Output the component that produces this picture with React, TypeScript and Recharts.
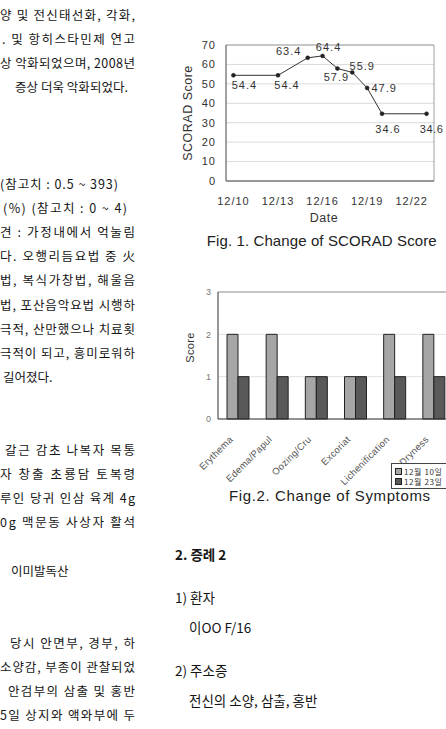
import React from 'react';
import {
  LineChart,
  Line,
  BarChart,
  Bar,
  XAxis,
  YAxis,
  CartesianGrid,
  ReferenceLine,
  LabelList,
  Legend,
} from 'recharts';

// ---------- Fig. 1 : SCORAD score ----------
const SCORAD_DAYS = [10, 13, 15, 16, 17, 18, 19, 20, 23]; // day of December
const SCORAD_SCORES = [54.4, 54.4, 63.4, 64.4, 57.9, 55.9, 47.9, 34.6, 34.6];
const DATE_TICKS = [10, 13, 16, 19, 22];
const DATE_MARK_TICKS = [12.5, 15.5, 18.5, 21.5];
const DATE_DOMAIN: [number, number] = [9.5, 23.5];
const SCORE_TICKS = [0, 10, 20, 30, 40, 50, 60, 70];

// ---------- Fig. 2 : symptoms ----------
const SYMPTOMS = ['Erythema', 'Edema/Papul', 'Oozing/Cru', 'Excoriat', 'Lichenification', 'Dryness'];
const DEC_10 = [2, 2, 1, 1, 2, 2];
const DEC_23 = [1, 1, 1, 1, 1, 1];
const SERIES_NAMES = ['12월 10일', '12월 23일'];
const SYMPTOM_TICKS = [0, 1, 2, 3];
const SYMPTOM_MARK_TICKS = [1, 2, 3, 4, 5];

const scoradData = SCORAD_DAYS.map((day, i) => ({ day, score: SCORAD_SCORES[i] }));
const symptomData = SYMPTOMS.map((name, i) => ({ name, dec10: DEC_10[i], dec23: DEC_23[i] }));

// label placement (style only): [dx, dy] from each point
const LABEL_OFFSETS = [
  [11, 10],
  [9, 10],
  [-19, -7],
  [6, -9],
  [-1, 9],
  [10, -6],
  [17, 0],
  [6, 15],
  [5, 15],
];

const CHART_FONT = "'Liberation Sans', Arial, sans-serif";
const KR_FONT = "'Noto Sans CJK KR', sans-serif";

// r = right edge for justified lines; lines without r keep their natural width
const LEFT_LINES: { t: string; y: number; x: number; r?: number }[] = [
  { t: '양 및 전신태선화, 각화,', y: 14, x: 0, r: 135 },
  { t: '. 및 항히스타민제 연고', y: 38, x: 2, r: 135 },
  { t: '상 악화되었으며, 2008년', y: 62, x: 0, r: 135 },
  { t: '증상 더욱 악화되었다.', y: 86, x: 15, r: 128 },
  { t: '(참고치 : 0.5 ~ 393)', y: 183, x: 0, r: 118 },
  { t: '(%) (참고치 : 0 ~ 4)', y: 207, x: 3, r: 127 },
  { t: '견 : 가정내에서 억눌림', y: 231, x: 0, r: 135 },
  { t: '다. 오행리듬요법 중 火', y: 255, x: 0, r: 135 },
  { t: '법, 복식가창법, 해울음', y: 279, x: 0, r: 135 },
  { t: '법, 포산음악요법 시행하', y: 304, x: 0, r: 135 },
  { t: '극적, 산만했으나 치료횟', y: 328, x: 0, r: 135 },
  { t: '극적이 되고, 흥미로워하', y: 352, x: 0, r: 135 },
  { t: '길어졌다.', y: 376, x: 3 },
  { t: '갈근 감초 나복자 목통', y: 449, x: 5, r: 135 },
  { t: '자 창출 초룡담 토복령', y: 473, x: 0, r: 135 },
  { t: '루인 당귀 인삼 육계 4g', y: 497, x: 0, r: 135 },
  { t: '0g 맥문동 사상자 활석', y: 521, x: 0, r: 135 },
  { t: '이미발독산', y: 570, x: 11 },
  { t: '당시 안면부, 경부, 하', y: 642, x: 10, r: 135 },
  { t: '소양감, 부종이 관찰되었', y: 666, x: 0, r: 135 },
  { t: '안검부의 삼출 및 홍반', y: 690, x: 8, r: 135 },
  { t: '5일 상지와 액와부에 두', y: 714, x: 0, r: 135 },
];

const RIGHT_LINES = [
  { t: '2. 증례 2', y: 554, x: 175, bold: true },
  { t: '1) 환자', y: 597, x: 175 },
  { t: '이OO F/16', y: 627, x: 189 },
  { t: '2) 주소증', y: 670, x: 175 },
  { t: '전신의 소양, 삼출, 홍반', y: 700, x: 189 },
];

const ScoreLabel = (props: any) => {
  const vb = props.viewBox || {};
  const x = props.x ?? vb.x;
  const y = props.y ?? vb.y;
  const idx = props.index ?? 0;
  const [dx, dy] = LABEL_OFFSETS[idx] || [0, 0];
  const last = idx === SCORAD_SCORES.length - 1;
  return (
    <text
      x={x + dx}
      y={y + dy}
      dy="0.355em"
      textAnchor="middle"
      fontSize={11}
      letterSpacing={last ? 0.5 : 1}
      fontFamily={CHART_FONT}
      fill="#333"
    >
      {props.value}
    </text>
  );
};

const DateAxisLabel = (props: any) => {
  const vb = props.viewBox;
  return (
    <text
      x={vb.x + vb.width / 2 - 6}
      y={vb.y + 37}
      dy="0.355em"
      textAnchor="middle"
      fontSize={12.5}
      letterSpacing={0.5}
      fontFamily={CHART_FONT}
      fill="#333"
    >
      Date
    </text>
  );
};

const ScoradAxisLabel = (props: any) => {
  const vb = props.viewBox;
  const cx = vb.x + 2;
  const cy = vb.y + vb.height / 2;
  return (
    <text
      x={cx}
      y={cy}
      transform={`rotate(-90 ${cx} ${cy})`}
      dy="0.355em"
      textAnchor="middle"
      fontSize={12.5}
      letterSpacing={0.5}
      fontFamily={CHART_FONT}
      fill="#333"
    >
      SCORAD Score
    </text>
  );
};

const SymptomAxisLabel = (props: any) => {
  const vb = props.viewBox;
  const cx = vb.x + 10;
  const cy = vb.y + vb.height / 2 - 8;
  return (
    <text
      x={cx}
      y={cy}
      transform={`rotate(-90 ${cx} ${cy})`}
      dy="0.355em"
      textAnchor="middle"
      fontSize={11}
      letterSpacing={0.3}
      fontFamily={CHART_FONT}
      fill="#333"
    >
      Score
    </text>
  );
};

const SymptomTick = (props: any) => {
  const { x, y, payload } = props;
  return (
    <g transform={`translate(${x - 4},${y + 21}) rotate(-45)`}>
      <text textAnchor="end" fontSize={9.5} letterSpacing={0.3} fontFamily={CHART_FONT} fill="#555">
        {payload.value}
      </text>
    </g>
  );
};

const LegendBox = (props: any) => {
  const payload = props.payload || [];
  return (
    <div
      style={{
        border: '1px solid #444',
        background: '#fff',
        padding: '3px 3px 2px 3px',
        width: 70,
        boxSizing: 'border-box',
      }}
    >
      {payload.map((p: any, i: number) => (
        <div key={i} style={{ display: 'flex', alignItems: 'center', height: 9.5 }}>
          <span
            style={{
              display: 'inline-block',
              width: 5,
              height: 5,
              background: p.color,
              border: '1px solid #222',
              marginRight: 2,
            }}
          />
          <span
            style={{
              fontFamily: KR_FONT,
              fontSize: 8,
              letterSpacing: 0.6,
              color: '#333',
              whiteSpace: 'nowrap',
              lineHeight: '9px',
            }}
          >
            {p.value}
          </span>
        </div>
      ))}
    </div>
  );
};

export default function App() {
  return (
    <div
      style={{
        position: 'absolute',
        left: 0,
        top: 0,
        width: 446,
        height: 729,
        overflow: 'hidden',
        background: '#fff',
      }}
    >
      <svg width={446} height={729} style={{ position: 'absolute', left: 0, top: 0 }}>
        {LEFT_LINES.map((l, i) => (
          <text
            key={i}
            x={l.x}
            y={l.y}
            dominantBaseline="central"
            fontFamily={KR_FONT}
            fontSize={12.5}
            fill="#151515"
            {...(l.r ? { textLength: l.r - l.x, lengthAdjust: 'spacing' } : {})}
          >
            {l.t}
          </text>
        ))}
        {RIGHT_LINES.map((l, i) => (
          <text
            key={i}
            x={l.x}
            y={l.y}
            dominantBaseline="central"
            fontFamily={KR_FONT}
            fontSize={13.5}
            fontWeight={l.bold ? 700 : 400}
            fill="#151515"
          >
            {l.t}
          </text>
        ))}
        <text
          x={206.7}
          y={240}
          dominantBaseline="central"
          fontFamily={CHART_FONT}
          fontSize={15}
          fill="#222"
          textLength={230}
          lengthAdjust="spacing"
        >
          Fig. 1. Change of SCORAD Score
        </text>
        <text
          x={229}
          y={495}
          dominantBaseline="central"
          fontFamily={CHART_FONT}
          fontSize={15}
          fill="#222"
          textLength={201}
          lengthAdjust="spacing"
        >
          Fig.2. Change of Symptoms
        </text>
      </svg>

      <div style={{ position: 'absolute', left: 0, top: 0 }}>
        <LineChart
          width={446}
          height={230}
          data={scoradData}
          margin={{ top: 45, right: 12, bottom: 5, left: 186 }}
        >
          <CartesianGrid vertical={false} stroke="#dadada" />
          <XAxis
            xAxisId="marks"
            type="number"
            domain={DATE_DOMAIN}
            ticks={DATE_MARK_TICKS}
            mirror
            height={0}
            axisLine={false}
            tick={false}
            tickSize={5}
            tickLine={{ stroke: '#444' }}
            interval={0}
          />
          <XAxis
            dataKey="day"
            type="number"
            domain={DATE_DOMAIN}
            ticks={DATE_TICKS}
            tickFormatter={(d: number) => `12/${d}`}
            height={44}
            axisLine={{ stroke: '#444' }}
            tickLine={false}
            tickSize={0}
            tickMargin={16}
            interval={0}
            tick={{ fill: '#333', fontSize: 11, fontFamily: CHART_FONT, letterSpacing: 1 }}
            label={{ content: DateAxisLabel }}
          />
          <YAxis
            type="number"
            domain={[0, 70]}
            ticks={SCORE_TICKS}
            width={40}
            axisLine={{ stroke: '#444' }}
            tickLine={false}
            tickSize={0}
            tickMargin={10}
            interval={0}
            tick={{ fill: '#333', fontSize: 11, fontFamily: CHART_FONT, letterSpacing: 1 }}
            label={{ content: ScoradAxisLabel }}
          />
          <ReferenceLine y={70} stroke="#a0a0a0" />
          <ReferenceLine x={DATE_DOMAIN[1]} stroke="#a0a0a0" />
          <Line
            type="linear"
            dataKey="score"
            stroke="#333"
            strokeWidth={1}
            dot={{ r: 2, fill: '#222', stroke: '#222', strokeWidth: 0.5 }}
            isAnimationActive={false}
          >
            <LabelList dataKey="score" content={ScoreLabel} />
          </Line>
        </LineChart>
      </div>

      <div style={{ position: 'absolute', left: 0, top: 250 }}>
        <BarChart
          width={460}
          height={260}
          data={symptomData}
          margin={{ top: 42, right: 7, bottom: 6, left: 180 }}
          barGap={0}
          barSize={11}
        >
          <CartesianGrid vertical={false} stroke="#e2e2e2" />
          <XAxis
            xAxisId="marks"
            type="number"
            domain={[0, SYMPTOMS.length]}
            ticks={SYMPTOM_MARK_TICKS}
            mirror
            height={0}
            axisLine={false}
            tick={false}
            tickSize={4}
            tickLine={{ stroke: '#444' }}
            interval={0}
          />
          <XAxis
            dataKey="name"
            height={85}
            axisLine={{ stroke: '#333' }}
            tickLine={false}
            tickSize={0}
            tickMargin={0}
            interval={0}
            tick={<SymptomTick />}
          />
          <YAxis
            type="number"
            domain={[0, 3]}
            ticks={SYMPTOM_TICKS}
            width={38}
            axisLine={{ stroke: '#333' }}
            tickLine={false}
            tickSize={0}
            tickMargin={7}
            interval={0}
            tick={{ fill: '#777', fontSize: 9, fontFamily: CHART_FONT }}
            label={{ content: SymptomAxisLabel }}
          />
          <ReferenceLine y={3} stroke="#9a9a9a" />
          <Legend
            layout="vertical"
            align="center"
            verticalAlign="middle"
            content={LegendBox}
            wrapperStyle={{ left: 391, top: 213, width: 70 }}
          />
          <Bar
            dataKey="dec10"
            name={SERIES_NAMES[0]}
            fill="#a6a6a6"
            stroke="#222"
            strokeWidth={1}
            isAnimationActive={false}
          />
          <Bar
            dataKey="dec23"
            name={SERIES_NAMES[1]}
            fill="#595959"
            stroke="#222"
            strokeWidth={1}
            isAnimationActive={false}
          />
        </BarChart>
      </div>
    </div>
  );
}
